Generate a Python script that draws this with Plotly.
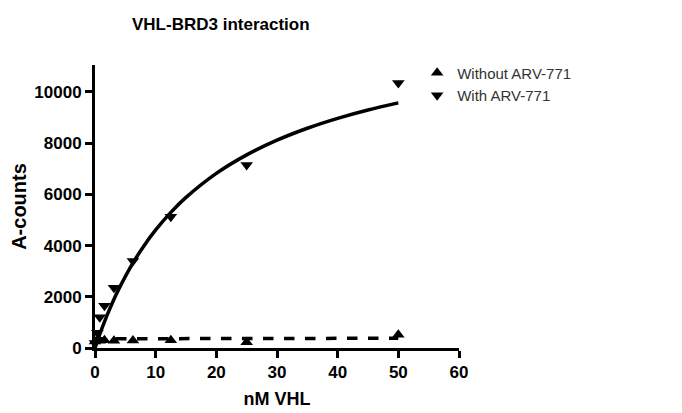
import plotly.graph_objects as go

# Data
conc_nM = [0, 0.39, 0.78, 1.56, 3.125, 6.25, 12.5, 25, 50]
without_arv = [250, 300, 280, 300, 280, 290, 300, 220, 520]
with_arv = [200, 600, 1200, 1650, 2350, 3400, 5120, 7150, 10350]

fit_with_x = [0, 1, 2, 3, 4, 6, 8, 10, 12.5, 15, 20, 25, 30, 35, 40, 45, 50]
fit_with_y = [0, 675, 1284, 1835, 2338, 3219, 3967, 4610, 5296, 5880, 6819, 7540,
              8115, 8581, 8967, 9292, 9570]
fit_without_x = [0, 50]
fit_without_y = [360, 380]

x_ticks = [0, 10, 20, 30, 40, 50, 60]
y_ticks = [0, 2000, 4000, 6000, 8000, 10000]
y_tick_labels = ["0", "2000", "4000", "6000", "8000", "10000"]

FONT = "Liberation Sans, Arial"

fig = go.Figure()
fig.add_trace(go.Scatter(x=fit_without_x, y=fit_without_y, mode="lines",
                         line=dict(color="black", width=3.5, dash="dash"),
                         showlegend=False, cliponaxis=False))
fig.add_trace(go.Scatter(x=fit_with_x, y=fit_with_y, mode="lines", line_shape="spline",
                         line=dict(color="black", width=3.5),
                         showlegend=False, cliponaxis=False))
fig.add_trace(go.Scatter(x=conc_nM, y=without_arv, mode="markers", name="Without ARV-771",
                         marker=dict(symbol="triangle-up", size=11, color="black"),
                         cliponaxis=False))
fig.add_trace(go.Scatter(x=conc_nM, y=with_arv, mode="markers", name="With ARV-771",
                         marker=dict(symbol="triangle-down", size=11, color="black"),
                         cliponaxis=False))

axis_common = dict(showline=True, linecolor="black", linewidth=3, ticks="outside",
                   ticklen=7, tickwidth=3, tickcolor="black", showgrid=False,
                   zeroline=False, automargin=False,
                   tickfont=dict(family=FONT, size=17, color="black", weight="bold"))

fig.update_layout(
    width=682, height=413,
    plot_bgcolor="white", paper_bgcolor="white",
    margin=dict(l=87, r=231, t=57, b=73),
    title=dict(text="<b>VHL-BRD3 interaction</b>", x=0.312, xanchor="center",
               y=0.962, yanchor="middle",
               font=dict(family=FONT, size=17, color="black")),
    xaxis=dict(range=[0, 60], tickvals=x_ticks, **axis_common,
               title=dict(text="<b>nM VHL</b>", standoff=11,
                          font=dict(family=FONT, size=18, color="black"))),
    yaxis=dict(range=[0, 11050], tickvals=y_ticks, ticktext=y_tick_labels, **axis_common,
               title=dict(text="<b>A-counts</b>", standoff=8,
                          font=dict(family=FONT, size=20, color="black"))),
    legend=dict(x=0.885, y=1.03, xanchor="left", yanchor="top",
                font=dict(family=FONT, size=15, color="#333333"),
                bgcolor="rgba(0,0,0,0)", itemwidth=30, tracegroupgap=0),
)

fig.write_html("out.html")
